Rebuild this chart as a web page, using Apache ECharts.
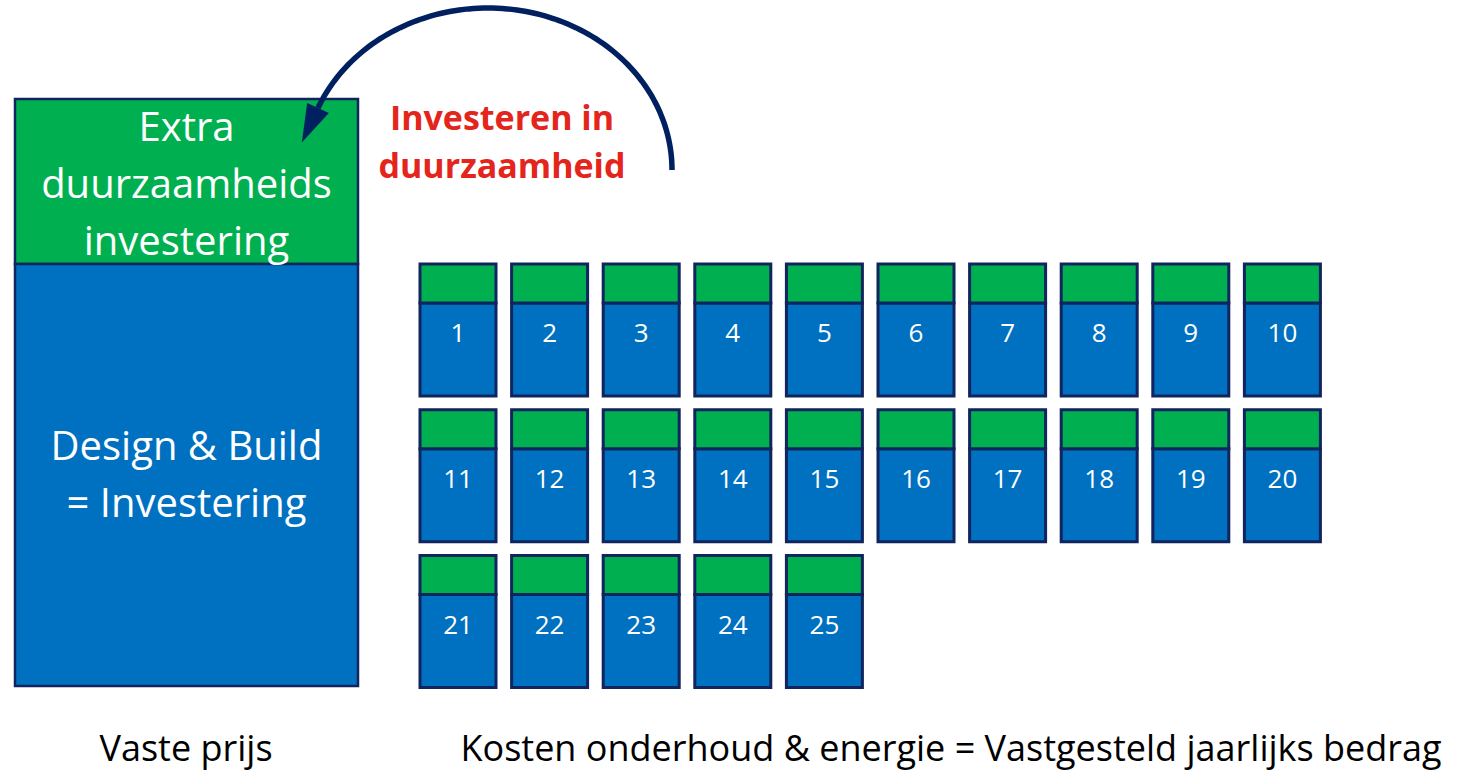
<!DOCTYPE html>
<html>
<head>
<meta charset="utf-8">
<script src="https://cdn.jsdelivr.net/npm/echarts@6/dist/echarts.min.js"></script>
<style>
html,body{margin:0;padding:0;background:#fff;}
#chart{width:1461px;height:771px;}
</style>
</head>
<body>
<div id="chart"></div>
<script>
// ---- data ----
const bigBlockLabels = ['Extra\nduurzaamheids\ninvestering', 'Design & Build\n= Investering'];
const bigBlockValues = [165, 422];          // extra sustainability investment, design & build investment
const yearLabels = ['1','2','3','4','5','6','7','8','9','10','11','12','13','14','15','16','17','18','19','20','21','22','23','24','25'];
const yearSustainability = [39,39,39,39,39,39,39,39,39,39,39,39,39,39,39,39,39,39,39,39,39,39,39,39,39];
const yearMaintenance = [93,93,93,93,93,93,93,93,93,93,93,93,93,93,93,93,93,93,93,93,93,93,93,93,93];
const captions = ['Vaste prijs', 'Kosten onderhoud & energie = Vastgesteld jaarlijks bedrag'];
const arrowLabel = 'Investeren in\nduurzaamheid';

// ---- style ----
const GREEN = '#00b050', BLUE = '#0070c0', EDGE = '#10245e', RED = '#e3251c', NAVY = '#002060';
const FONT = '"Open Sans", sans-serif';

const chart = echarts.init(document.getElementById('chart'), null, {renderer: 'svg'});

function rect(api, x, y, w, h, fill, lw) {
  const p0 = api.coord([x, y]);
  const p1 = api.coord([x + w, y + h]);
  return {type: 'rect', shape: {x: p0[0], y: p0[1], width: p1[0] - p0[0], height: p1[1] - p0[1]},
          style: {fill: fill, stroke: EDGE, lineWidth: lw}};
}

const option = {
  animation: false,
  grid: {left: 0, right: 0, top: 0, bottom: 0},
  xAxis: {type: 'value', min: 0, max: 1461, show: false},
  yAxis: {type: 'value', min: 0, max: 771, inverse: true, show: false},
  series: [
    {
      // big block: stacked extra investment on top of design & build
      type: 'custom',
      data: [[bigBlockValues[0], bigBlockValues[1]]],
      renderItem: function (params, api) {
        const x0 = 15, w = 343, top = 99;
        const gH = api.value(0), bH = api.value(1);
        const c1 = api.coord([x0 + w / 2, top + gH / 2]);
        const c2 = api.coord([x0 + w / 2, top + gH + bH / 2]);
        return {type: 'group', children: [
          rect(api, x0, top, w, gH, GREEN, 2.5),
          rect(api, x0, top + gH, w, bH, BLUE, 2.5),
          {type: 'text', style: {text: bigBlockLabels[0], x: c1[0], y: c1[1] + 1, fill: '#fff', font: '40px ' + FONT,
            align: 'center', verticalAlign: 'middle', lineHeight: 57}},
          {type: 'text', style: {text: bigBlockLabels[1], x: c2[0], y: c2[1] - 2, fill: '#fff', font: '40px ' + FONT,
            align: 'center', verticalAlign: 'middle', lineHeight: 57}}
        ]};
      }
    },
    {
      // yearly boxes
      type: 'custom',
      data: yearLabels.map((l, i) => [i, yearSustainability[i], yearMaintenance[i]]),
      renderItem: function (params, api) {
        const i = api.value(0);
        const col = i % 10, row = Math.floor(i / 10);
        const x0 = 420 + col * 91.6, top = 264 + row * 145.8, w = 76;
        const gH = api.value(1), bH = api.value(2);
        const c = api.coord([x0 + w / 2, top + gH + 29]);
        return {type: 'group', children: [
          rect(api, x0, top + gH, w, bH, BLUE, 3),
          rect(api, x0, top, w, gH, GREEN, 3),
          {type: 'text', style: {text: yearLabels[i], x: c[0], y: c[1], fill: '#fff', font: '26px ' + FONT,
            align: 'center', verticalAlign: 'middle'}}
        ]};
      }
    },
    {
      // curved arrow and its label
      type: 'custom',
      data: [[0]],
      renderItem: function (params, api) {
        const cx = 488, cy = 170, rx = 184, ry = 162, a1 = 157.5;
        const pts = [];
        for (let a = 0; a <= a1; a += 1.5) {
          const r = a * Math.PI / 180;
          pts.push(api.coord([cx + rx * Math.cos(r), cy - ry * Math.sin(r)]));
        }
        const r = a1 * Math.PI / 180;
        const bx = cx + rx * Math.cos(r), by = cy - ry * Math.sin(r);
        let dx = -rx * Math.sin(r), dy = -ry * Math.cos(r);
        const L = Math.hypot(dx, dy); dx /= L; dy /= L;
        const len = 38, hw = 12;
        const tip = api.coord([bx + dx * len, by + dy * len]);
        const l1 = api.coord([bx - dy * hw, by + dx * hw]);
        const l2 = api.coord([bx + dy * hw, by - dx * hw]);
        const t = api.coord([502, 141]);
        return {type: 'group', children: [
          {type: 'polyline', shape: {points: pts}, style: {stroke: NAVY, lineWidth: 5.5, fill: null}},
          {type: 'polygon', shape: {points: [tip, l1, l2]}, style: {fill: NAVY}},
          {type: 'text', style: {text: arrowLabel, x: t[0], y: t[1], fill: RED, font: 'bold 34px ' + FONT,
            align: 'center', verticalAlign: 'middle', lineHeight: 48}}
        ]};
      }
    },
    {
      // captions
      type: 'custom',
      data: [[0], [1]],
      renderItem: function (params, api) {
        const i = params.dataIndex;
        const pos = i === 0 ? [186, 747] : [951, 747];
        const c = api.coord(pos);
        return {type: 'text', style: {text: captions[i], x: c[0], y: c[1], fill: '#000', font: '36px ' + FONT,
          align: 'center', verticalAlign: 'middle'}};
      }
    }
  ]
};
chart.setOption(option);
</script>
</body>
</html>
